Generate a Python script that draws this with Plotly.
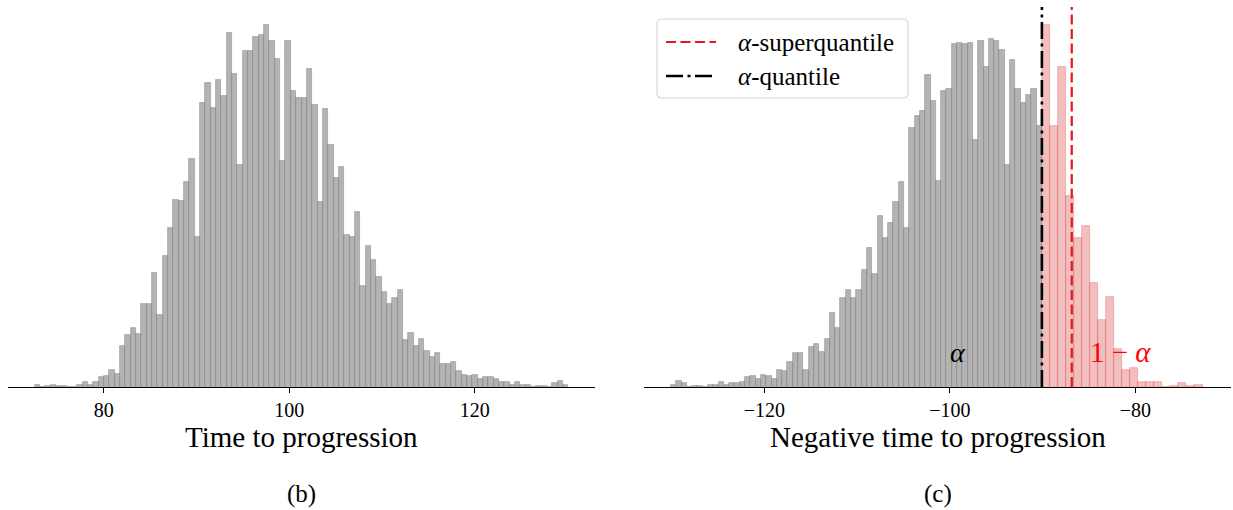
import numpy as np
import plotly.graph_objects as go

# ---------------- data ----------------
# Left panel (b): histogram of time to progression, 100 bins
left_counts = [2, 0, 1, 2, 1, 1, 0, 0, 2, 4, 2, 4, 8, 9, 14, 11, 34, 43, 49, 44,
               69, 69, 95, 60, 109, 133, 156, 155, 171, 190, 125, 237, 254, 233, 256, 243, 295, 261, 185, 280,
               280, 292, 294, 302, 289, 274, 189, 289, 247, 241, 241,
               265, 235, 154, 232, 202, 174, 184, 127, 125, 146, 84, 118, 106, 92, 79, 69, 74, 81, 39,
               45, 34, 40, 30, 25, 28, 19, 19, 21, 13, 10, 9, 10, 7, 8, 8, 7, 4, 4, 2,
               4, 2, 2, 0, 1, 1, 0, 3, 5, 2]
left_bin_start = 72.56
left_bin_width = 0.5753

# Right panel (c): negative time to progression, part below the alpha-quantile
gray_counts = [2, 5, 3, 0, 1, 1, 0, 2, 2, 4, 2, 3, 3, 4, 8, 9, 7, 10, 9, 7,
               14, 13, 21, 28, 28, 14, 33, 36, 29, 40, 62, 49, 74, 81, 74, 81, 98, 116, 94, 143,
               124, 137, 154, 171, 133, 216, 226, 230, 260, 239, 172, 247, 249, 286, 287, 286, 287, 206, 289, 267,
               290, 289, 281, 185, 273, 249, 237, 244, 249, 218]
gray_bin_start = -130.07
gray_bin_width = 0.5714

# part above the alpha-quantile (1 - alpha tail)
red_counts = [302, 218, 267, 159, 124, 134, 87, 56, 75, 32, 14, 16, 4, 4, 4, 0, 1, 3, 1, 2]
red_bin_start = -90.07
red_bin_width = 0.866

alpha_quantile = -90.07
alpha_superquantile = -86.85

left_ticks = [80, 100, 120]
right_ticks = [-120, -100, -80]

left_xlabel = "Time to progression"
right_xlabel = "Negative time to progression"
captions = ["(b)", "(c)"]
legend_labels = ["<i>α</i>-superquantile", "<i>α</i>-quantile"]

# ---------------- figure ----------------
FONT = "Liberation Serif"
W, H = 1233, 510
RED_DASH = "10px,4.5px"
BLACK_DASHDOT = "17px,4.5px,3px,4.5px"


def centers(start, width, n):
    return start + width * (np.arange(n) + 0.5)


def px(x):
    return x / W


def py(y):
    return (H - y) / H


gray_fill = "rgba(128,128,128,0.6)"
red_fill = "rgba(214,39,40,0.3)"

fig = go.Figure()

fig.add_trace(go.Bar(
    x=centers(left_bin_start, left_bin_width, len(left_counts)), y=left_counts,
    width=left_bin_width, marker=dict(color=gray_fill, line=dict(color=gray_fill, width=0.8)),
    showlegend=False, xaxis="x", yaxis="y"))

fig.add_trace(go.Bar(
    x=centers(gray_bin_start, gray_bin_width, len(gray_counts)), y=gray_counts,
    width=gray_bin_width, marker=dict(color=gray_fill, line=dict(color=gray_fill, width=0.8)),
    showlegend=False, xaxis="x2", yaxis="y2"))

fig.add_trace(go.Bar(
    x=centers(red_bin_start, red_bin_width, len(red_counts)), y=red_counts,
    width=red_bin_width, marker=dict(color=red_fill, line=dict(color=red_fill, width=0.8)),
    showlegend=False, xaxis="x2", yaxis="y2"))

ymax = 1.05 * max(max(left_counts), max(gray_counts), max(red_counts))

fig.add_trace(go.Scatter(
    x=[alpha_superquantile, alpha_superquantile], y=[0, ymax], mode="lines",
    line=dict(color="#e8141b", width=2.2, dash=RED_DASH),
    name=legend_labels[0], showlegend=False, xaxis="x2", yaxis="y2"))

fig.add_trace(go.Scatter(
    x=[alpha_quantile, alpha_quantile], y=[0, ymax], mode="lines",
    line=dict(color="black", width=2.6, dash=BLACK_DASHDOT),
    name=legend_labels[1], showlegend=False, xaxis="x2", yaxis="y2"))

lx0, lx1 = 69.68, 132.97
ydom = [py(387), py(7)]
xdom1 = [px(8), px(595)]
xdom2 = [px(644), px(1231)]

common_x = dict(showline=True, linecolor="black", linewidth=1.3, ticks="outside", ticklen=5,
                tickwidth=1.2, tickcolor="black", showgrid=False, zeroline=False,
                tickfont=dict(family=FONT, size=20, color="black"))

fig.update_layout(
    width=W, height=H,
    margin=dict(l=0, r=0, t=0, b=0),
    paper_bgcolor="white", plot_bgcolor="white",
    barmode="overlay", bargap=0,
    showlegend=False,
    font=dict(family=FONT, color="black"),
    xaxis=dict(domain=xdom1, range=[lx0, lx1], tickvals=left_ticks, anchor="y", **common_x),
    yaxis=dict(domain=ydom, range=[0, ymax], visible=False, anchor="x"),
    xaxis2=dict(domain=xdom2, range=[-lx1, -lx0], tickvals=right_ticks, anchor="y2", **common_x),
    yaxis2=dict(domain=ydom, range=[0, ymax], visible=False, anchor="x2"),
)

# ----- legend box (drawn as in the reference: rounded frame, long line samples) -----
bx0, bx1, by0, by1 = px(657), px(908), py(98), py(19)
rx, ry = 5 / W, 5 / H
box_path = (f"M {bx0+rx},{by1} L {bx1-rx},{by1} Q {bx1},{by1} {bx1},{by1-ry} "
            f"L {bx1},{by0+ry} Q {bx1},{by0} {bx1-rx},{by0} L {bx0+rx},{by0} "
            f"Q {bx0},{by0} {bx0},{by0+ry} L {bx0},{by1-ry} Q {bx0},{by1} {bx0+rx},{by1} Z")
shapes = [
    dict(type="path", path=box_path, xref="paper", yref="paper",
         line=dict(color="#d6d6d6", width=1.2), fillcolor="rgba(255,255,255,0.85)", layer="above"),
    dict(type="line", xref="paper", yref="paper", x0=px(666), x1=px(716), y0=py(42), y1=py(42),
         line=dict(color="#e8141b", width=2.2, dash=RED_DASH), layer="above"),
    dict(type="line", xref="paper", yref="paper", x0=px(666), x1=px(716), y0=py(76), y1=py(76),
         line=dict(color="black", width=2.6, dash=BLACK_DASHDOT), layer="above"),
]
fig.update_layout(shapes=shapes)

ann = []
ann.append(dict(text=legend_labels[0], x=px(736), y=py(42), xref="paper", yref="paper",
                showarrow=False, font=dict(family=FONT, size=25, color="black"),
                xanchor="left", yanchor="middle"))
ann.append(dict(text=legend_labels[1], x=px(736), y=py(76), xref="paper", yref="paper",
                showarrow=False, font=dict(family=FONT, size=25, color="black"),
                xanchor="left", yanchor="middle"))
ann.append(dict(text=left_xlabel, x=(xdom1[0] + xdom1[1]) / 2, y=py(437), xref="paper", yref="paper",
                showarrow=False, font=dict(family=FONT, size=29, color="black"),
                xanchor="center", yanchor="middle"))
ann.append(dict(text=right_xlabel, x=(xdom2[0] + xdom2[1]) / 2, y=py(437), xref="paper", yref="paper",
                showarrow=False, font=dict(family=FONT, size=29, color="black"),
                xanchor="center", yanchor="middle"))
ann.append(dict(text=captions[0], x=(xdom1[0] + xdom1[1]) / 2, y=py(494), xref="paper", yref="paper",
                showarrow=False, font=dict(family=FONT, size=25, color="black"),
                xanchor="center", yanchor="middle"))
ann.append(dict(text=captions[1], x=(xdom2[0] + xdom2[1]) / 2, y=py(494), xref="paper", yref="paper",
                showarrow=False, font=dict(family=FONT, size=25, color="black"),
                xanchor="center", yanchor="middle"))
ann.append(dict(text="<i>α</i>", x=-99.1, y=29, xref="x2", yref="y2", showarrow=False,
                font=dict(family=FONT, size=28, color="black"), xanchor="center", yanchor="middle"))
ann.append(dict(text="1 − <i>α</i>", x=-81.6, y=29, xref="x2", yref="y2", showarrow=False,
                font=dict(family=FONT, size=29, color="red"), xanchor="center", yanchor="middle"))
fig.update_layout(annotations=ann)

fig.write_html("out.html", config={"displayModeBar": False},
               post_script="document.body.style.margin='0px';document.body.style.overflow='hidden';")
